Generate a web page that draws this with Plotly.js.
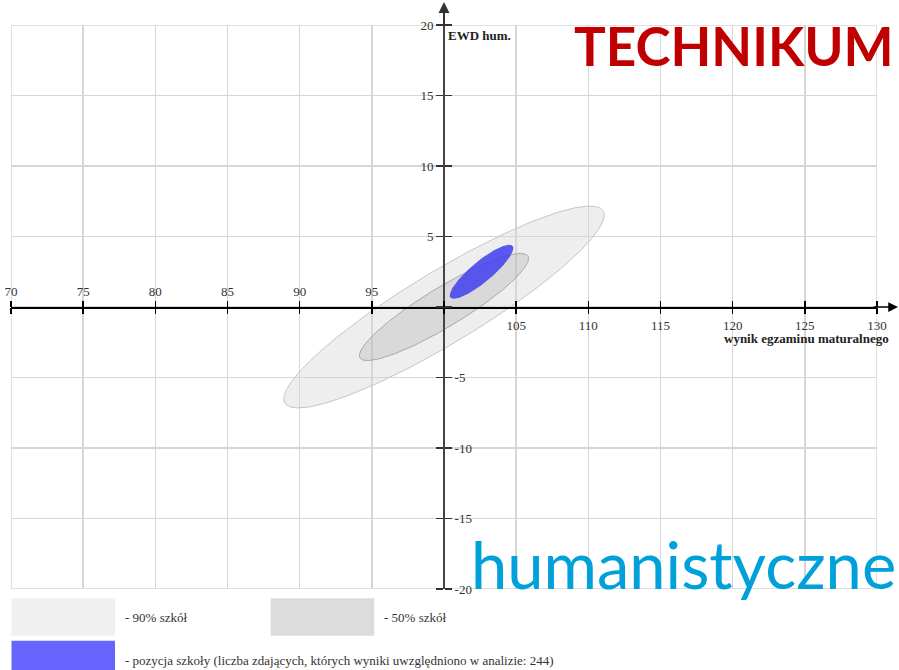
<!DOCTYPE html>
<html><head><meta charset="utf-8">
<script src="https://cdn.plot.ly/plotly-3.0.1.min.js"></script>
<style>html,body{margin:0;padding:0;background:#fff}#chart{width:899px;height:670px}</style>
</head><body><div id="chart"></div>
<script>
// ---- data ----
const xTickValues = [70, 75, 80, 85, 90, 95, 100, 105, 110, 115, 120, 125, 130];
const yTickValues = [-20, -15, -10, -5, 0, 5, 10, 15, 20];
const ellipseNames = ['90% szkół', '50% szkół', 'pozycja szkoły'];
const centerX = [100, 100, 102.6];
const centerY = [0, 0, 2.5];
const halfRangeX = [11.1, 5.86, 2.2];
const halfRangeY = [7.16, 3.8, 1.92];
const correlation = [0.91, 0.905, 0.87];
const schoolCount = 244;
const legendLabels = ['- 90% szkół', '- 50% szkół',
  '- pozycja szkoły (liczba zdających, których wyniki uwzględniono w analizie: ' + schoolCount + ')'];
const xTitle = 'wynik egzaminu maturalnego';
const yTitle = 'EWD hum.';
const bigTitle = 'TECHNIKUM';
const subTitle = 'humanistyczne';

// ---- styles ----
const fills = ['rgba(215,215,215,0.42)', 'rgba(170,170,170,0.30)', 'rgba(62,62,240,0.85)'];
const strokes = ['#c6c6c6', '#a8a8a8', 'rgba(0,0,0,0)'];
const legendFills = ['#f0f0f0', '#dcdcdc', '#6666ff'];
const serif = 'Liberation Serif, Times New Roman, serif';
const gridColor = '#d6d6d6';

// ellipse outline from centre, half extents and correlation
function outline(i) {
  const phi = Math.acos(correlation[i]);
  const xs = [], ys = [];
  for (let k = 0; k <= 360; k++) {
    const t = k * Math.PI / 180;
    xs.push(centerX[i] + halfRangeX[i] * Math.cos(t));
    ys.push(centerY[i] + halfRangeY[i] * Math.cos(t + phi));
  }
  return {xs, ys};
}

const traces = ellipseNames.map((n, i) => {
  const o = outline(i);
  return {type: 'scatter', mode: 'lines', x: o.xs, y: o.ys, name: n, fill: 'toself',
    fillcolor: fills[i], line: {color: strokes[i], width: 1}, hoverinfo: 'skip', showlegend: false};
});
traces.push({type: 'scatter', mode: 'markers', x: [null], y: [null], xaxis: 'x2', yaxis: 'y2',
  hoverinfo: 'skip', showlegend: false});

// pixel -> paper helpers
const L = 11, W = 866, T = 25, H = 564;
const pX = p => (p - L) / W;
const pY = p => (T + H - p) / H;

const xRange = [xTickValues[0], xTickValues[xTickValues.length - 1]];
const yRange = [yTickValues[0], yTickValues[yTickValues.length - 1]];
const xMid = 100, yMid = 0;

const tickFont = {family: serif, size: 13, color: '#333'};
const commonX = {range: xRange, tickvals: xTickValues, anchor: 'free', position: 0.5,
  zeroline: false, ticks: 'outside', ticklen: 6, tickwidth: 1.5, tickcolor: '#000',
  tickfont: tickFont, fixedrange: true, automargin: false};
const commonY = {range: yRange, tickvals: yTickValues, anchor: 'free', position: 0.5,
  zeroline: false, ticks: 'outside', ticklen: 7, tickwidth: 1.5, tickcolor: '#333',
  tickfont: tickFont, fixedrange: true, automargin: false};

const layout = {
  width: 899, height: 670,
  margin: {l: L, r: 899 - L - W, t: T, b: 670 - T - H, pad: 0},
  paper_bgcolor: '#fff', plot_bgcolor: '#fff',
  showlegend: false,
  xaxis: Object.assign({}, commonX, {side: 'top', showgrid: true, gridcolor: gridColor, gridwidth: 1.5,
    showline: true, linecolor: '#000', linewidth: 1.5,
    ticktext: xTickValues.map(v => v < xMid ? String(v) : '')}),
  xaxis2: Object.assign({}, commonX, {side: 'bottom', overlaying: 'x', showgrid: false, showline: false,
    ticktext: xTickValues.map(v => v > xMid ? String(v) : '')}),
  yaxis: Object.assign({}, commonY, {side: 'left', showgrid: true, gridcolor: gridColor, gridwidth: 1.5,
    showline: true, linecolor: '#444', linewidth: 2,
    ticktext: yTickValues.map(v => v > yMid ? String(v) : '')}),
  yaxis2: Object.assign({}, commonY, {side: 'right', overlaying: 'y', showgrid: false, showline: false,
    ticktext: yTickValues.map(v => v < yMid ? String(v) : '')}),
  shapes: [
    {type: 'rect', xref: 'x', yref: 'y', x0: xRange[0], x1: xRange[1], y0: yRange[0], y1: yRange[1],
      line: {color: gridColor, width: 1.5}, fillcolor: 'rgba(0,0,0,0)', layer: 'below'},
    {type: 'rect', xref: 'paper', yref: 'paper', x0: pX(11.5), x1: pX(115), y0: pY(598.3), y1: pY(635.7),
      fillcolor: legendFills[0], line: {width: 0}},
    {type: 'rect', xref: 'paper', yref: 'paper', x0: pX(270.7), x1: pX(374.3), y0: pY(598.3), y1: pY(635.7),
      fillcolor: legendFills[1], line: {width: 0}},
    {type: 'rect', xref: 'paper', yref: 'paper', x0: pX(11.5), x1: pX(115), y0: pY(640.7), y1: pY(680),
      fillcolor: legendFills[2], line: {width: 0}}
  ],
  annotations: [
    {xref: 'paper', yref: 'paper', x: pX(123), y: pY(617), xanchor: 'left', yanchor: 'middle',
      text: legendLabels[0], showarrow: false, font: tickFont},
    {xref: 'paper', yref: 'paper', x: pX(382), y: pY(617), xanchor: 'left', yanchor: 'middle',
      text: legendLabels[1], showarrow: false, font: tickFont},
    {xref: 'paper', yref: 'paper', x: pX(123), y: pY(660), xanchor: 'left', yanchor: 'middle',
      text: legendLabels[2], showarrow: false, font: tickFont},
    {xref: 'paper', yref: 'paper', x: pX(446), y: pY(36), xanchor: 'left', yanchor: 'middle',
      text: yTitle, showarrow: false, font: {family: serif, size: 13, color: '#222', weight: 'bold'}},
    {xref: 'paper', yref: 'paper', x: pX(891), y: pY(338), xanchor: 'right', yanchor: 'middle',
      text: xTitle, showarrow: false, font: {family: serif, size: 13, color: '#222', weight: 'bold'}},
    {xref: 'paper', yref: 'paper', x: pX(896), y: pY(45), xanchor: 'right', yanchor: 'middle',
      text: bigTitle, showarrow: false, font: {family: 'Lato, Open Sans, sans-serif', size: 53, color: '#C00000', weight: 'bold'}},
    {xref: 'paper', yref: 'paper', x: pX(469), y: pY(564), xanchor: 'left', yanchor: 'middle',
      text: subTitle, showarrow: false, font: {family: 'Lato, Open Sans, sans-serif', size: 65, color: '#00A0DA'}},
    {xref: 'paper', yref: 'paper', x: pX(898), y: 0.5, ax: -26, ay: 0, text: '', showarrow: true,
      arrowhead: 2, arrowsize: 1.3, arrowwidth: 1.5, arrowcolor: '#000'},
    {xref: 'paper', yref: 'paper', x: 0.5, y: pY(2), ax: 0, ay: 26, text: '', showarrow: true,
      arrowhead: 2, arrowsize: 1.1, arrowwidth: 2, arrowcolor: '#333'}
  ]
};

Plotly.newPlot('chart', traces, layout, {displayModeBar: false, staticPlot: true});
</script>
</body></html>
